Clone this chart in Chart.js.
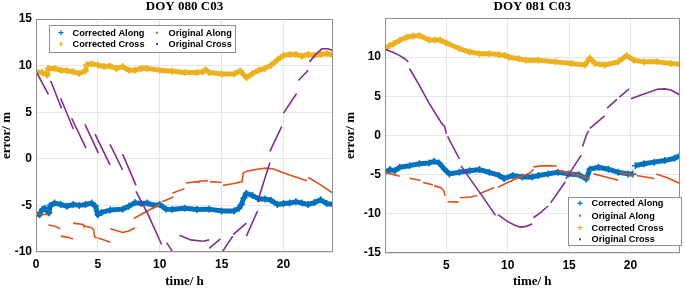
<!DOCTYPE html>
<html>
<head>
<meta charset="utf-8">
<script src="https://cdn.jsdelivr.net/npm/chart.js@4.4.1/dist/chart.umd.min.js"></script>
<style>
  html, body { margin: 0; padding: 0; background: #fff; }
  #wrap { display: flex; width: 685px; height: 288px; }
  canvas { display: block; }
</style>
</head>
<body>
<div id="wrap">
  <canvas id="c80" width="342" height="288"></canvas>
  <canvas id="c81" width="343" height="288"></canvas>
</div>
<script>
// ---- DOY 080 ----
var caT80 = [0, 0.3, 0.5, 0.7, 0.9, 1.05, 1.15, 1.5, 2, 2.5, 3, 3.5, 4, 4.5, 4.8, 5.0, 5.3, 6, 7, 7.5, 8, 8.5, 9, 9.5, 10, 10.5, 11, 12, 13, 14, 15, 16, 16.4, 16.6, 16.8, 17, 17.5, 18, 18.5, 19, 19.5, 20, 20.5, 21, 21.5, 22, 22.5, 23, 23.5, 24];
var caV80 = [-5.9, -6.0, -5.45, -5.3, -5.6, -5.8, -5.0, -4.75, -4.9, -5.1, -4.9, -5.0, -4.9, -4.75, -5.1, -6.0, -5.75, -5.5, -5.4, -5.1, -4.7, -4.8, -4.75, -5.0, -4.9, -5.4, -5.45, -5.3, -5.45, -5.4, -5.6, -5.6, -5.3, -4.9, -4.2, -3.7, -3.95, -4.3, -4.3, -4.45, -4.9, -4.8, -4.75, -4.6, -4.75, -4.9, -4.7, -4.4, -4.8, -4.9];

var ccT80 = [0, 0.5, 0.9, 1.0, 1.5, 2, 2.5, 3, 3.5, 4, 4.1, 4.5, 5, 5.5, 6, 6.5, 7, 7.5, 8, 8.5, 9, 10, 11, 12, 13, 13.5, 13.7, 14, 15, 16, 16.5, 16.8, 17, 17.5, 18, 18.5, 19, 19.5, 20, 20.5, 21, 21.5, 22, 22.5, 23, 23.5, 24];
var ccV80 = [9.35, 9.25, 9.0, 9.7, 9.7, 9.5, 9.45, 9.35, 9.15, 9.45, 10.1, 10.2, 10.05, 9.9, 9.95, 9.7, 9.9, 9.5, 9.5, 9.7, 9.7, 9.5, 9.4, 9.25, 9.25, 9.35, 9.55, 9.25, 9.1, 9.1, 9.45, 9.0, 8.7, 9.15, 9.5, 9.7, 10.05, 10.6, 11.1, 11.2, 11.2, 11.0, 11.2, 11.1, 11.2, 11.3, 11.1];

// original series come in separate pieces, null = gap
var oaT80 = [0, 1.0, null, 1.0, 1.5, 1.95, null, 2.0, 2.5, 3.0, null, 3.0, 3.8, 3.85, 4.5, 4.65, 4.75, 4.9, null, 5.0, 5.5, 6.0, null, 6.0, 7.0, 7.5, 8.0, null, 7.9, 9.0, 10.0, null, 10.2, 11.1, null, 11.0, 12.0, null, 12.1, 13.0, 13.1, 13.15, 13.9, null, 14.05, 15.0, null, 15.1, 16.0, 16.65, 16.75, 17.1, 18.0, 18.6, 19.2, 19.7, 20.6, 21.1, 21.9, null, 22.0, 23.0, 24];
var oaV80 = [-5.9, -6.0, null, -7.1, -7.2, -7.5, null, -8.3, -8.4, -8.6, null, -6.9, -7.05, -7.2, -7.4, -7.6, -8.4, -8.5, null, -8.5, -8.7, -8.95, null, -7.5, -7.9, -7.75, -7.4, null, -6.4, -5.6, -4.9, null, -4.6, -4.1, null, -3.7, -3.2, null, -2.6, -2.45, -2.55, -2.4, -2.35, null, -2.45, -2.55, null, -2.85, -2.65, -2.45, -1.5, -1.3, -1.1, -1.0, -1.1, -1.35, -1.78, -2.0, -2.35, null, -2.0, -2.8, -3.7];

var ocT80 = [0, 1.0, null, 1.19, 2.07, null, 1.99, 3.02, null, 2.88, 4.04, null, 3.96, 5.04, null, 4.77, 5.98, null, 5.98, 7.0, null, 7.0, 8.08, null, 8.08, 9.0, 10.15, null, 10.56, 11.0, 11.6, null, 11.6, 12.5, 13.5, 14.0, null, 14.0, 14.9, null, 14.9, 15.9, null, 15.95, 17.0, null, 17.0, 17.9, null, 17.9, 18.9, null, 18.9, 19.85, null, 20.0, 21.06, null, 21.2, 22.0, null, 22.1, 22.6, 23.1, 23.6, 24];
var ocV80 = [9.4, 6.9, null, 8.35, 5.4, null, 6.5, 3.2, null, 4.35, 1.15, null, 3.7, 0.6, null, 2.65, -0.65, null, 1.55, -1.2, null, 0.5, -2.85, null, -3.5, -5.8, -9.2, null, -9.0, -9.9, -10.5, null, -8.2, -8.7, -8.85, -8.7, null, -9.6, -8.6, null, -10.3, -8.3, null, -8.1, -6.9, null, -8.3, -5.6, null, -4.6, -0.4, null, 0.8, 3.45, null, 4.9, 7.0, null, 8.4, 9.5, null, 10.4, 11.2, 11.8, 11.8, 11.6];

var xTicks80 = [0, 5, 10, 15, 20];
var yTicks80 = [-10, -5, 0, 5, 10, 15];

// ---- DOY 081 ----
var caT81 = [0, 0.4, 0.8, 1.2, 2, 2.8, 3.6, 4.0, 4.4, 4.85, 5.25, 6.06, 6.9, 7.7, 8.5, 9.3, 9.7, 10.4, 11.2, 12.0, 12.5, 13.3, 14.1, 14.95, 15.8, 16.4, 16.7, 17.4, 18.2, 19.0, 19.8, 20.2, null, 20.4, 21.1, 21.95, 22.8, 23.6, 24];
var caV81 = [-4.7, -4.35, -4.5, -4.05, -3.85, -3.6, -3.5, -3.3, -3.5, -4.3, -4.9, -4.7, -4.5, -4.35, -4.7, -5.1, -5.5, -5.1, -5.3, -5.3, -5.1, -4.9, -4.7, -4.9, -5.0, -5.55, -4.3, -4.05, -4.3, -4.7, -4.9, -4.9, null, -3.85, -3.6, -3.4, -3.2, -2.9, -2.6];

var ccT81 = [0, 0.4, 0.7, 1.2, 1.75, 2.3, 2.8, 3.6, 4.1, 4.5, 5.0, 6.06, 6.9, 7.7, 8.5, 9.3, 9.8, 10.1, 10.9, 11.5, 12.5, 13.9, 15.2, 16.3, 16.7, 17.1, 17.9, 19.0, 19.7, 20.3, 21.1, 22.2, 23.3, 24];
var ccV81 = [11.1, 11.5, 11.7, 12.15, 12.55, 12.7, 12.75, 12.2, 12.2, 12.2, 11.8, 11.1, 10.65, 10.45, 10.45, 10.3, 10.2, 10.0, 9.8, 9.6, 9.6, 9.4, 9.2, 9.0, 9.9, 9.2, 9.0, 9.4, 10.2, 9.6, 9.4, 9.4, 9.2, 9.1];

var oaT81 = [0, 1.2, null, 2.0, 2.9, null, 3.1, 3.9, null, 4.0, 4.6, 4.8, 4.9, null, 5.1, 6.0, null, 6.1, 7.0, 7.5, null, 7.7, 8.9, null, 9.2, 10.0, 11.0, 11.8, 12.1, null, 12.1, 13.0, 14.0, null, 14.1, 15.0, 16.0, 16.6, null, 17.0, 18.0, 19.0, null, 19.1, 20.3, null, 20.5, 21.95, null, 22.1, 23.0, 24];
var oaV81 = [-4.7, -5.2, null, -5.45, -5.75, null, -6.0, -6.3, null, -6.4, -6.7, -7.1, -7.7, null, -8.45, -8.5, null, -7.95, -7.85, -7.65, null, -7.45, -6.65, null, -6.6, -6.0, -5.3, -4.8, -4.3, null, -4.0, -3.85, -3.9, null, -4.45, -4.75, -5.15, -5.5, null, -4.9, -5.3, -5.7, null, -4.7, -5.1, null, -5.1, -5.5, null, -4.9, -5.4, -6.1];

var ocT81 = [0, 0.6, 1.2, 1.6, 1.9, null, 2.0, 2.8, 3.6, 4.6, 4.75, 4.85, 5.0, null, 5.1, 6.06, null, 6.2, 7.0, 8.0, 9.0, null, 9.2, 10.0, 10.5, 11.0, 11.5, 12.0, null, 12.1, 12.7, 13.3, null, 13.5, 14.7, null, 14.75, 16.0, null, 16.1, 16.4, 16.6, null, 16.7, 17.9, null, 18.1, 18.9, null, 19.1, 19.9, null, 20.05, 21.1, 22.2, 22.8, 23.3, 24];
var ocV81 = [11.0, 10.65, 10.2, 9.8, 9.4, null, 8.55, 6.4, 4.1, 1.6, 1.3, 1.2, 0.2, null, -0.1, -3.0, null, -3.9, -5.7, -7.9, -10.2, null, -10.1, -11.0, -11.4, -11.7, -11.6, -11.3, null, -10.5, -9.8, -9.0, null, -8.6, -5.9, null, -5.5, -2.5, null, -1.4, 0.0, 0.6, null, 0.9, 2.5, null, 3.5, 4.6, null, 4.9, 5.95, null, 4.7, 5.3, 5.9, 5.95, 5.8, 5.2];

var xTicks81 = [5, 10, 15, 20];
var yTicks81 = [-15, -10, -5, 0, 5, 10];

var names = ['Corrected Along', 'Original Along', 'Corrected Cross', 'Original Cross'];
var colors = ['#0072BD', '#D95319', '#EDB120', '#7E2F8E'];

function pts(T, V) {
  return T.map(function (t, i) {
    return { x: t === null ? T[i - 1] : t, y: V[i] };
  });
}

function band(label, color, data, order) {
  return {
    label: label, data: data, showLine: true, borderColor: color, backgroundColor: color,
    borderWidth: 5, borderJoinStyle: 'round', tension: 0, spanGaps: false,
    pointStyle: 'cross', pointRadius: 3.5, pointBorderWidth: 1.5, pointBorderColor: color,
    order: order
  };
}
function dash(label, color, data, order) {
  return {
    label: label, data: data, showLine: true, borderColor: color, backgroundColor: color,
    borderWidth: 1.6, tension: 0, spanGaps: false, pointRadius: 0, order: order
  };
}

// box around the axes + title + legend in the box
var framePlugin = {
  id: 'frame',
  afterDatasetsDraw: function (chart) {
    var a = chart.chartArea, ctx = chart.ctx;
    ctx.save();
    ctx.strokeStyle = '#8f8f8f';
    ctx.lineWidth = 1;
    ctx.strokeRect(Math.round(a.left) + 0.5, Math.round(a.top) + 0.5,
      Math.round(a.right - a.left) - 1, Math.round(a.bottom - a.top) - 1);
    ctx.restore();
  },
  afterDraw: function (chart) {
    var o = chart.options.plugins.frame, a = chart.chartArea, ctx = chart.ctx;
    ctx.save();
    ctx.fillStyle = '#000';
    ctx.font = 'bold 13px "Liberation Serif", "Times New Roman", serif';
    ctx.textAlign = 'center';
    ctx.textBaseline = 'middle';
    ctx.fillText(o.title, (a.left + a.right) / 2, 7);

    var L = o.legend;
    ctx.fillStyle = '#fff';
    ctx.fillRect(L.x, L.y, L.w, L.h);
    ctx.strokeStyle = '#8f8f8f';
    ctx.strokeRect(L.x + 0.5, L.y + 0.5, L.w, L.h);
    ctx.font = 'bold 9.2px "Liberation Sans", Arial, sans-serif';
    ctx.textAlign = 'left';
    L.items.forEach(function (it, i) {
      var c = colors[i];
      ctx.strokeStyle = c;
      ctx.fillStyle = c;
      if (i % 2 === 0) {
        ctx.lineWidth = 1.2;
        ctx.beginPath();
        ctx.moveTo(it[0] - 2.5, it[1]); ctx.lineTo(it[0] + 2.5, it[1]);
        ctx.moveTo(it[0], it[1] - 2.5); ctx.lineTo(it[0], it[1] + 2.5);
        ctx.stroke();
      } else {
        ctx.fillRect(it[0] - 1, it[1] - 1, 2, 2);
      }
      ctx.fillStyle = '#000';
      ctx.fillText(names[i], it[0] + 11.5, it[1] + 0.5);
    });
    ctx.restore();
  }
};

var tickFont = { family: '"Liberation Sans", Arial, sans-serif', weight: 'bold', size: 12 };
var titleFont = { family: '"Liberation Serif", "Times New Roman", serif', weight: 'bold', size: 13, lineHeight: 1 };

function makeChart(id, sets, xt, yt, ymin, ymax, yw, xh, pad, title, legend, ytitlePad) {
  return new Chart(document.getElementById(id), {
    type: 'scatter',
    data: { datasets: sets },
    options: {
      responsive: false,
      animation: false,
      events: [],
      devicePixelRatio: 1,
      layout: { padding: pad },
      plugins: {
        legend: { display: false },
        tooltip: { enabled: false },
        frame: { title: title, legend: legend }
      },
      scales: {
        x: {
          type: 'linear', min: 0, max: 24,
          afterBuildTicks: function (s) { s.ticks = xt.map(function (v) { return { value: v }; }); },
          afterFit: function (s) { s.height = xh; },
          grid: { color: '#e6e6e6', drawTicks: false },
          border: { display: false },
          ticks: { font: tickFont, color: '#000', padding: 5, maxRotation: 0 },
          title: { display: true, text: 'time/ h', font: titleFont, color: '#000', padding: { top: 0, bottom: 0 } }
        },
        y: {
          type: 'linear', min: ymin, max: ymax,
          afterBuildTicks: function (s) { s.ticks = yt.map(function (v) { return { value: v }; }); },
          afterFit: function (s) { s.width = yw; },
          grid: { color: '#e6e6e6', drawTicks: false },
          border: { display: false },
          ticks: { font: tickFont, color: '#000', padding: 4 },
          title: { display: true, text: 'error/ m', font: titleFont, color: '#000', padding: { top: ytitlePad, bottom: 0 } }
        }
      }
    },
    plugins: [framePlugin]
  });
}

makeChart('c80', [
  band(names[0], colors[0], pts(caT80, caV80), 3),
  dash(names[1], colors[1], pts(oaT80, oaV80), 2),
  band(names[2], colors[2], pts(ccT80, ccV80), 1),
  dash(names[3], colors[3], pts(ocT80, ocV80), 0)
], xTicks80, yTicks80, -10, 15, 36, 36, { top: 19, right: 9, left: 0, bottom: 0 }, 'DOY 080 C03',
  { x: 49, y: 25, w: 186, h: 27, items: [[61, 32.7], [157, 32.7], [61, 44], [157, 44]] }, 0.5);

makeChart('c81', [
  band(names[0], colors[0], pts(caT81, caV81), 3),
  dash(names[1], colors[1], pts(oaT81, oaV81), 2),
  band(names[2], colors[2], pts(ccT81, ccV81), 1),
  dash(names[3], colors[3], pts(ocT81, ocV81), 0)
], xTicks81, yTicks81, -15, 15, 43, 35, { top: 18, right: 3, left: 0, bottom: 0 }, 'DOY 081 C03',
  { x: 226, y: 197, w: 113, h: 48, items: [[238, 203.3], [238, 215.7], [238, 227.7], [238, 239.3]] }, 2);
</script>
</body>
</html>
